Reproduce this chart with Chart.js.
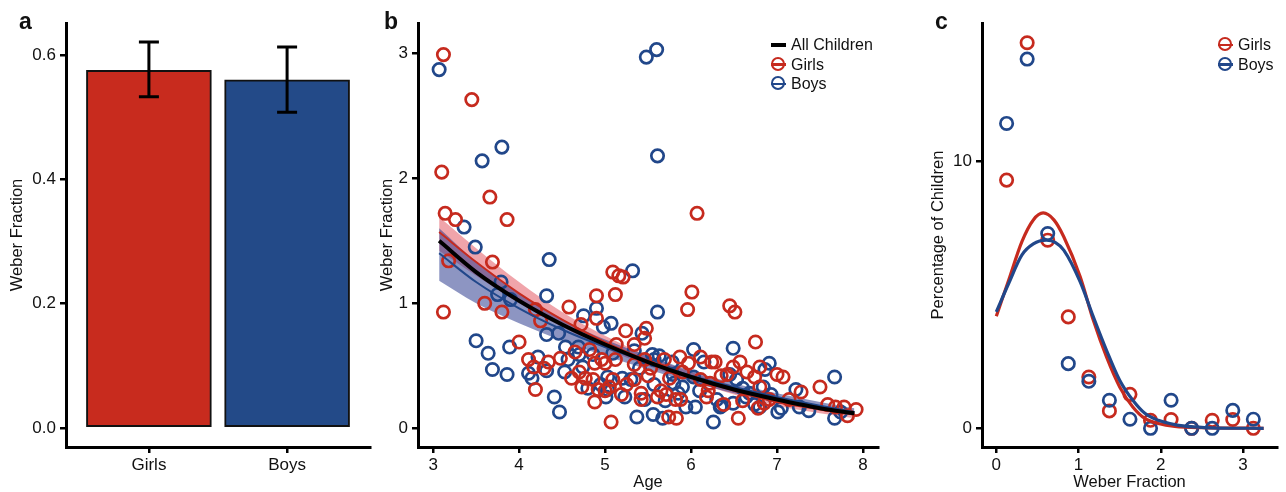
<!DOCTYPE html>
<html>
<head>
<meta charset="utf-8">
<script src="https://cdn.jsdelivr.net/npm/chart.js@4.4.1/dist/chart.umd.min.js"></script>
<style>
  body { margin: 0; background: #fff; width: 1286px; height: 492px; position: relative; overflow: hidden;
         font-family: "Liberation Sans", Arial, sans-serif; color: #111; }
  canvas { position: absolute; top: 0; }
  .lab { position: absolute; top: 10px; font-size: 23px; font-weight: bold; line-height: 1; }
  .leg { position: absolute; font-size: 16px; }
  .row { position: relative; height: 19.5px; line-height: 19.5px; }
  .row span.t { position: absolute; white-space: nowrap; }
  .circ { position: absolute; width: 10px; height: 10px; border-radius: 50%; border: 2.5px solid; top: 2.25px; }
  .bar { position: absolute; height: 2.5px; width: 15px; top: 8.5px; }
</style>
</head>
<body>
<canvas id="ca" width="372" height="492" style="left:0px"></canvas>
<canvas id="cb" width="515" height="492" style="left:372px"></canvas>
<canvas id="cc" width="360" height="492" style="left:926px"></canvas>

<div class="lab" style="left:19px">a</div>
<div class="lab" style="left:384px">b</div>
<div class="lab" style="left:935px">c</div>

<div class="leg" style="left:771px; top:35px">
  <div class="row"><span class="bar" style="background:#000;height:4px;top:7.75px;left:0"></span><span class="t" style="left:20px">All Children</span></div>
  <div class="row"><span class="circ" style="border-color:#c62a1e;left:0"></span><span class="bar" style="background:#c62a1e;left:0"></span><span class="t" style="left:20px">Girls</span></div>
  <div class="row"><span class="circ" style="border-color:#21478a;left:0"></span><span class="bar" style="background:#21478a;left:0"></span><span class="t" style="left:20px">Boys</span></div>
</div>
<div class="leg" style="left:1218px; top:35px">
  <div class="row"><span class="circ" style="border-color:#c62a1e;left:0"></span><span class="bar" style="background:#c62a1e;left:0"></span><span class="t" style="left:20px">Girls</span></div>
  <div class="row"><span class="circ" style="border-color:#21478a;left:0"></span><span class="bar" style="background:#21478a;left:0"></span><span class="t" style="left:20px">Boys</span></div>
</div>

<script>
// panel a: mean weber fraction by sex
const barLabels = ['Girls', 'Boys'];
const barX = [1, 2];
const barMean = [0.5755, 0.560];
const errLow = [0.533, 0.508];
const errHigh = [0.621, 0.613];
const yTicksA = [0, 0.2, 0.4, 0.6];

// panel b: weber fraction vs age
const girlsAge = [3.12,3.10,3.14,3.26,3.18,3.12,3.45,3.66,3.86,3.69,3.60,3.80,4.00,4.19,4.25,4.11,4.17,4.19,
  4.34,4.48,4.58,4.72,4.61,4.73,4.90,4.90,4.82,4.88,4.96,4.88,4.86,4.92,5.09,5.16,5.21,5.12,5.13,5.12,5.07,5.24,
  5.09,5.19,5.48,5.46,5.46,5.34,5.34,5.53,5.61,5.42,5.74,5.83,5.71,5.82,5.87,5.96,6.01,6.07,5.97,6.11,6.22,6.28,
  6.18,6.38,6.45,6.51,6.49,6.42,6.55,6.65,6.75,6.74,6.80,6.78,6.91,7.00,7.28,7.50,7.59,7.68,7.78,7.82,7.92,
  5.50,5.65,5.90,6.20,6.60,5.25,5.00,4.70,6.35,6.85,5.75,
  4.29,4.65,4.77,5.00,5.05,5.34,5.42,5.69,5.88,6.11,6.24,6.57,6.80,7.07,7.14];
const girlsWeber = [2.99,2.05,1.72,1.67,1.34,0.93,2.63,1.85,1.67,1.33,1.00,0.93,0.69,0.95,0.86,0.55,0.49,0.31,
  0.53,0.56,0.97,0.83,0.40,0.33,1.06,0.88,0.63,0.52,0.55,0.21,0.39,0.31,1.25,1.22,1.21,1.07,0.67,0.55,0.05,0.78,
  0.39,0.27,0.80,0.72,0.55,0.51,0.39,0.48,0.25,0.23,0.09,0.08,0.27,0.23,0.57,0.95,1.09,1.72,0.52,0.39,0.36,0.53,
  0.25,0.19,0.98,0.93,0.49,0.43,0.08,0.45,0.69,0.41,0.33,0.16,0.23,0.43,0.29,0.33,0.19,0.17,0.17,0.10,0.15,
  0.42,0.30,0.45,0.30,0.22,0.35,0.30,0.45,0.42,0.20,0.40,
  0.48,0.61,0.40,0.52,0.33,0.67,0.28,0.55,0.23,0.57,0.53,0.53,0.49,0.41,0.23];
const boysAge = [3.07,3.36,3.49,3.57,3.80,3.79,3.75,3.90,3.50,3.64,3.69,3.86,3.89,4.35,4.32,4.32,4.22,4.11,
  4.15,4.32,4.41,4.47,4.54,4.57,4.53,4.70,4.74,4.75,4.90,4.98,5.07,5.09,5.03,5.01,4.80,5.32,5.34,5.43,5.46,5.37,
  5.61,5.48,5.60,5.61,5.55,5.63,5.57,5.56,5.67,5.78,5.79,5.90,6.03,5.94,6.05,6.15,6.26,6.30,6.45,6.49,6.49,6.68,
  6.74,6.86,6.91,6.93,7.01,7.26,7.37,7.67,7.67,5.20,5.70,6.10,6.60,5.40,4.95,6.35,6.80,7.05,5.85,
  4.46,4.69,4.86,5.03,5.23,5.30,5.57,5.80,6.03,6.34,6.53,6.64,6.84,7.22,7.74];
const boysWeber = [2.87,1.61,1.45,2.14,2.25,1.17,1.07,1.03,0.70,0.60,0.47,0.43,0.65,1.35,1.06,0.75,0.57,0.44,
  0.40,0.46,0.25,0.13,0.65,0.55,0.45,0.59,0.49,0.90,0.96,0.81,0.84,0.60,0.41,0.25,0.32,1.26,0.62,0.76,0.23,0.09,
  0.93,2.97,3.03,2.18,0.59,0.58,0.35,0.11,0.08,0.53,0.43,0.33,0.63,0.17,0.17,0.53,0.05,0.23,0.43,0.64,0.20,0.28,
  0.19,0.47,0.52,0.27,0.13,0.17,0.14,0.41,0.08,0.40,0.22,0.30,0.32,0.48,0.35,0.18,0.17,0.16,0.28,
  0.76,0.65,0.59,0.31,0.25,0.39,0.55,0.36,0.41,0.17,0.39,0.25,0.33,0.31,0.13];

// fitted curves read at these ages
const fitAge = [3.07, 3.5, 4, 4.5, 5, 5.5, 6, 6.5, 7, 7.5, 7.9];
const allFit = [1.50, 1.25, 1.02, 0.83, 0.67, 0.53, 0.41, 0.31, 0.23, 0.16, 0.12];
const girlsFit = [1.57, 1.33, 1.08, 0.87, 0.69, 0.54, 0.41, 0.30, 0.21, 0.15, 0.11];
const girlsFitHi = [1.69, 1.44, 1.17, 0.93, 0.74, 0.58, 0.45, 0.34, 0.25, 0.18, 0.14];
const girlsFitLo = [1.42, 1.22, 1.00, 0.81, 0.64, 0.50, 0.38, 0.27, 0.18, 0.12, 0.08];
const boysFit = [1.40, 1.17, 0.96, 0.79, 0.65, 0.53, 0.42, 0.33, 0.25, 0.18, 0.13];
const boysFitHi = [1.60, 1.33, 1.08, 0.87, 0.71, 0.58, 0.46, 0.36, 0.28, 0.21, 0.16];
const boysFitLo = [1.18, 1.00, 0.84, 0.70, 0.58, 0.47, 0.37, 0.28, 0.21, 0.15, 0.10];
const xTicksB = [3, 4, 5, 6, 7, 8];
const yTicksB = [0, 1, 2, 3];

// panel c: distribution of weber fractions
const bins = [0.125, 0.375, 0.625, 0.875, 1.125, 1.375, 1.625, 1.875, 2.125, 2.375, 2.625, 2.875, 3.125];
const girlsPct = [9.29, 14.43, 7.04, 4.17, 1.92, 0.65, 1.27, 0.30, 0.33, 0, 0.30, 0.33, 0];
const boysPct = [11.41, 13.82, 7.29, 2.42, 1.76, 1.05, 0.34, 0, 1.05, 0, 0, 0.67, 0.34];
const girlsCurveX = [0, 0.15, 0.31, 0.45, 0.57, 0.7, 0.82, 1.02, 1.18, 1.34, 1.5, 1.66, 1.81, 1.97, 2.17, 2.5, 3.25];
const girlsCurve = [4.19, 5.54, 6.98, 7.8, 8.06, 7.8, 7.17, 5.67, 4.04, 2.67, 1.55, 0.80, 0.36, 0.18, 0.07, 0.02, 0];
const boysCurveX = [0, 0.15, 0.31, 0.45, 0.61, 0.72, 0.82, 1.02, 1.18, 1.34, 1.5, 1.66, 1.81, 1.97, 2.17, 2.4, 2.7, 3.25];
const boysCurve = [4.36, 5.42, 6.48, 6.9, 7.04, 6.95, 6.67, 5.48, 4.17, 2.92, 1.80, 1.05, 0.55, 0.30, 0.14, 0.05, 0.01, 0];
const xTicksC = [0, 1, 2, 3];
const yTicksC = [0, 10];

const RED = '#c62a1e';
const BLUE = '#21478a';

Chart.defaults.font.family = '"Liberation Sans", Arial, sans-serif';
Chart.defaults.font.size = 17;
Chart.defaults.color = '#111';
Chart.defaults.animation = false;
Chart.defaults.plugins.legend.display = false;
Chart.defaults.plugins.tooltip.enabled = false;

function axis(min, max, ticks, fmt, title, fixed, isY, titlePad) {
  return {
    type: 'linear', min: min, max: max, offset: false,
    border: { display: true, color: '#000', width: 3 },
    grid: { display: true, drawOnChartArea: false, drawTicks: true, tickLength: 6, lineWidth: 2.5, color: '#000', offset: false },
    ticks: { padding: isY ? 4 : 2, callback: fmt, maxRotation: 0, autoSkip: false },
    afterBuildTicks: s => { s.ticks = ticks.map(v => ({ value: v })); },
    afterFit: s => { if (isY) s.width = fixed; else s.height = fixed; },
    title: { display: !!title, text: title, font: { size: 16.5, lineHeight: 1.1 }, padding: titlePad || { top: 0, bottom: 0 } }
  };
}

const pts = (xs, ys) => xs.map((x, i) => ({ x: x, y: ys[i] }));

const errorBars = {
  id: 'errorBars',
  afterDatasetsDraw(chart) {
    const { ctx, scales: { x, y } } = chart;
    ctx.save();
    ctx.strokeStyle = '#000';
    ctx.lineWidth = 3;
    barX.forEach((bx, i) => {
      const px = x.getPixelForValue(bx);
      const top = y.getPixelForValue(errHigh[i]);
      const bot = y.getPixelForValue(errLow[i]);
      ctx.beginPath();
      ctx.moveTo(px, top); ctx.lineTo(px, bot);
      ctx.moveTo(px - 10, top); ctx.lineTo(px + 10, top);
      ctx.moveTo(px - 10, bot); ctx.lineTo(px + 10, bot);
      ctx.stroke();
    });
    ctx.restore();
  }
};

new Chart(document.getElementById('ca'), {
  type: 'bar',
  data: {
    datasets: [{
      data: pts(barX, barMean),
      backgroundColor: ['#c82b1e', '#234a88'],
      borderColor: '#111',
      borderWidth: 2,
      borderSkipped: false,
      barThickness: 125
    }]
  },
  options: {
    responsive: false,
    layout: { padding: { left: 0, right: 2, top: 23, bottom: 0 } },
    scales: {
      x: axis(0.4, 2.6, barX, v => barLabels[barX.indexOf(v)], '', 45, false),
      y: axis(-0.0306, 0.6515, yTicksA, v => v.toFixed(1), 'Weber Fraction', 66, true, { top: 7.9, bottom: 0 })
    }
  },
  plugins: [errorBars]
});

const circles = (xs, ys, col, order) => ({
  data: pts(xs, ys), order: order,
  pointRadius: 6.2, pointBorderWidth: 2.7, pointBorderColor: col,
  pointBackgroundColor: 'rgba(0,0,0,0)', pointHoverRadius: 6.2
});
const curve = (xs, ys, col, w, order) => ({
  type: 'line', data: pts(xs, ys), order: order, borderColor: col, borderWidth: w,
  pointRadius: 0, fill: false, cubicInterpolationMode: 'monotone'
});
const band = (ys, fill, col, order) => ({
  type: 'line', data: pts(fitAge, ys), order: order, borderWidth: 0, borderColor: 'rgba(0,0,0,0)',
  pointRadius: 0, fill: fill, backgroundColor: col, cubicInterpolationMode: 'monotone'
});

new Chart(document.getElementById('cb'), {
  type: 'scatter',
  data: {
    datasets: [
      band(girlsFitHi, '+1', 'rgba(226,74,86,0.5)', 4),
      band(girlsFitLo, false, 'rgba(0,0,0,0)', 4),
      band(boysFitHi, '+1', 'rgba(40,55,140,0.53)', 3),
      band(boysFitLo, false, 'rgba(0,0,0,0)', 3),
      circles(boysAge, boysWeber, BLUE, 2),
      circles(girlsAge, girlsWeber, RED, 1.5),
      curve(fitAge, girlsFit, RED, 2, 0.5),
      curve(fitAge, boysFit, BLUE, 2, 0.4),
      curve(fitAge, allFit, '#000', 4, 0)
    ]
  },
  options: {
    responsive: false,
    layout: { padding: { left: 0, right: 4, top: 23, bottom: 0 } },
    scales: {
      x: axis(2.824, 8.176, xTicksB, v => String(v), 'Age', 45, false, { top: 0, bottom: 0 }),
      y: axis(-0.15, 3.243, yTicksB, v => String(v), 'Weber Fraction', 46, true, { top: 5.9, bottom: 0 })
    }
  }
});

new Chart(document.getElementById('cc'), {
  type: 'scatter',
  data: {
    datasets: [
      circles(bins, girlsPct, RED, 3),
      circles(bins, boysPct, BLUE, 2.5),
      curve(girlsCurveX, girlsCurve, RED, 3.2, 1),
      curve(boysCurveX, boysCurve, BLUE, 3.2, 0)
    ]
  },
  options: {
    responsive: false,
    layout: { padding: { left: 0, right: 1, top: 23, bottom: 0 } },
    scales: {
      x: axis(-0.174, 3.414, xTicksC, v => String(v), 'Weber Fraction', 45, false, { top: 0, bottom: 0 }),
      y: axis(-0.70, 15.17, yTicksC, v => String(v), 'Percentage of Children', 56, true, { top: 2.9, bottom: 0 })
    }
  }
});
</script>
</body>
</html>
